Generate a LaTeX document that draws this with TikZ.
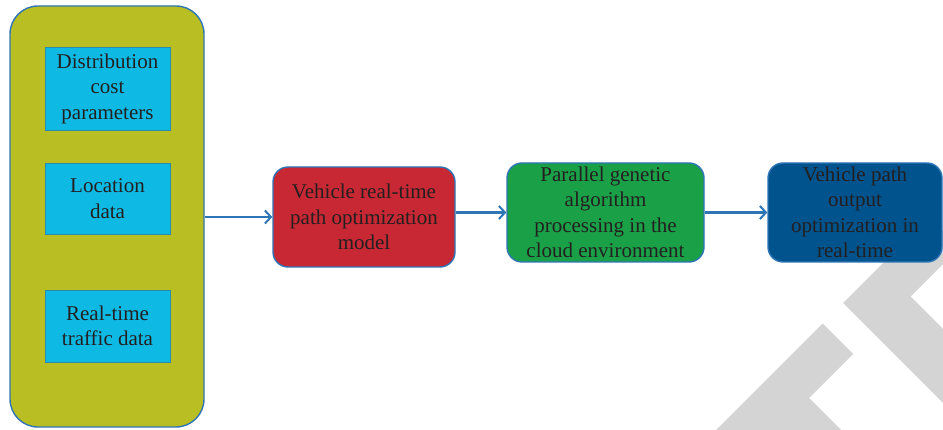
\documentclass[tikz,border=0pt]{standalone}
\usepackage{fontspec}
\setmainfont{Liberation Serif}
\usetikzlibrary{arrows.meta}

\definecolor{olivefill}{RGB}{185,190,34}
\definecolor{edgeblue}{RGB}{46,117,182}
\definecolor{cyanfill}{RGB}{14,186,228}
\definecolor{cyanedge}{RGB}{40,140,170}
\definecolor{redfill}{RGB}{200,40,52}
\definecolor{greenfill}{RGB}{26,161,72}
\definecolor{navyfill}{RGB}{0,83,141}
\definecolor{inktext}{RGB}{35,31,32}
\definecolor{markgray}{RGB}{212,212,212}

\tikzset{
  lbl/.style={text=inktext, align=center, inner sep=0pt,
    font=\fontsize{21}{25.5}\selectfont},
  panel/.style={draw=edgeblue, line width=1.4pt, fill=olivefill,
    rounded corners=28pt, inner sep=0pt},
  inbox/.style={lbl, draw=cyanedge, line width=0.9pt, fill=cyanfill},
  stage/.style={lbl, draw=edgeblue, line width=1.4pt, rounded corners=15pt},
  flow/.style={draw=edgeblue, line width=2.2pt,
    -{Straight Barb[length=6pt,width=13pt,line width=2pt]}},
}

\begin{document}
\begin{tikzpicture}[x=1pt,y=-1pt]
  \useasboundingbox (0,0) rectangle (943,430);

  % light grey corner mark
  \begin{scope}
    \clip (0,0) rectangle (943,430);
    \fill[markgray] (843,303) -- (916,230) -- (977,230) -- (910.5,296.5)
      -- (1000,386) -- (1000,460) -- cycle;
    \fill[markgray] (686,460) -- (822.5,323.5) -- (853,354) -- (809,398)
      -- (871,460) -- cycle;
  \end{scope}

  % input panel with its three data boxes
  \node[panel, minimum width=194pt, minimum height=421pt] (inputs) at (107,216.5) {};
  \node[inbox, minimum width=125pt, minimum height=83pt] (cost) at (107.5,88.5)
    {Distribution\\cost\\parameters};
  \node[inbox, minimum width=125pt, minimum height=71pt] (loc) at (107.5,198.5)
    {Location\\data};
  \node[inbox, minimum width=125pt, minimum height=72pt] (traffic) at (107.5,326)
    {Real-time\\traffic data};

  % processing stages
  \node[stage, fill=redfill, minimum width=182pt, minimum height=100pt] (model) at (364,217)
    {Vehicle real-time\\path optimization\\model};
  \node[stage, fill=greenfill, minimum width=197pt, minimum height=99pt] (pga) at (605.5,212.5)
    {Parallel genetic\\algorithm\\processing in the\\cloud environment};
  \node[stage, fill=navyfill, minimum width=174pt, minimum height=99pt] (out) at (855,212.5)
    {Vehicle path\\output\\optimization in\\real-time};

  % connectors
  \draw[flow] (inputs.east |- model.west) -- (model.west);
  \draw[flow] (model.east |- pga.west) -- (pga.west);
  \draw[flow] (pga.east) -- (out.west);
\end{tikzpicture}
\end{document}
